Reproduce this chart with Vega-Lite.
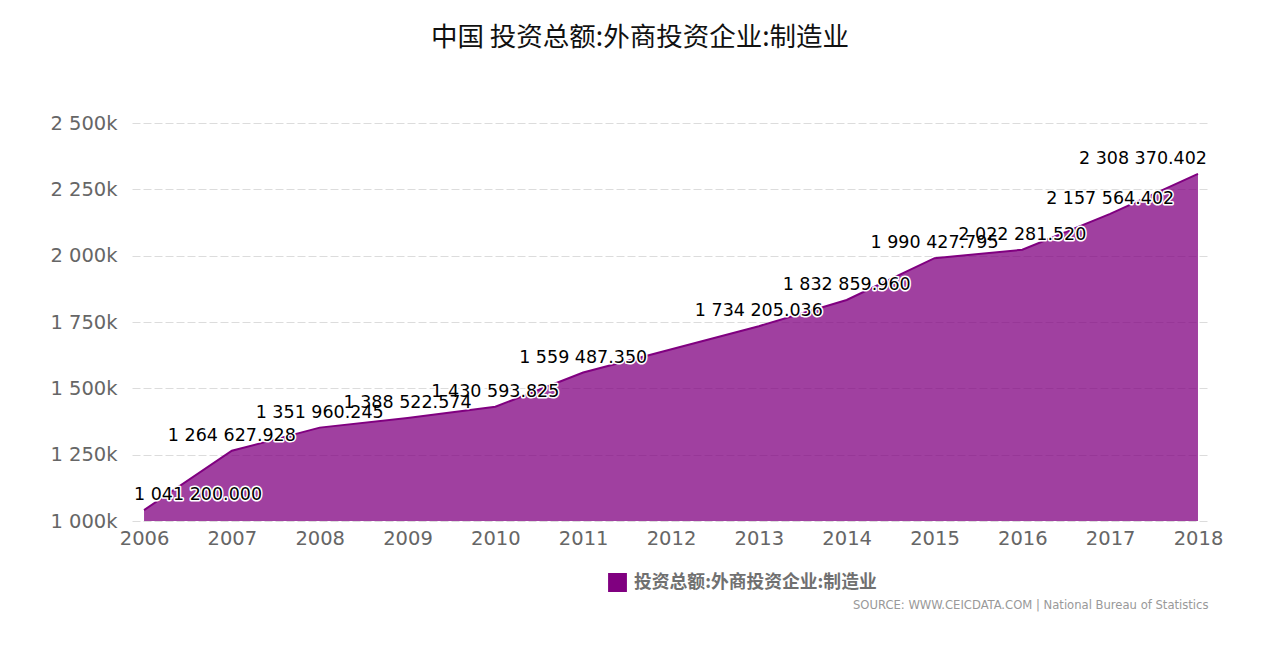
{
  "$schema": "https://vega.github.io/schema/vega-lite/v6.json",
  "width": 1076,
  "height": 398,
  "autosize": {"type": "none"},
  "padding": {"left": 132, "top": 123, "right": 69, "bottom": 145},
  "background": "white",
  "config": {
    "locale": {"number": {"decimal": ".", "thousands": " ", "grouping": [3], "currency": ["", ""]}},
    "view": {"stroke": null},
    "font": "DejaVu Sans"
  },
  "title": {
    "text": "中国 投资总额:外商投资企业:制造业",
    "font": "Noto Sans CJK SC",
    "fontSize": 26.5,
    "fontWeight": "normal",
    "color": "#111",
    "anchor": "middle",
    "frame": "group",
    "offset": 62,
    "dx": -30
  },
  "data": {
    "values": [
      {"year": 2006, "value": 1041200.000},
      {"year": 2007, "value": 1264627.928},
      {"year": 2008, "value": 1351960.245},
      {"year": 2009, "value": 1388522.574},
      {"year": 2010, "value": 1430593.825},
      {"year": 2011, "value": 1559487.350},
      {"year": 2013, "value": 1734205.036},
      {"year": 2014, "value": 1832859.960},
      {"year": 2015, "value": 1990427.795},
      {"year": 2016, "value": 2022281.520},
      {"year": 2017, "value": 2157564.402},
      {"year": 2018, "value": 2308370.402}
    ]
  },
  "encoding": {
    "x": {
      "field": "year",
      "type": "quantitative",
      "scale": {"domain": [2005.863, 2018.114], "nice": false, "zero": false},
      "axis": {
        "values": [2006, 2007, 2008, 2009, 2010, 2011, 2012, 2013, 2014, 2015, 2016, 2017, 2018],
        "format": "d",
        "grid": false,
        "domain": false,
        "ticks": false,
        "labelFont": "DejaVu Sans",
        "labelFontSize": 19.5,
        "labelColor": "#666",
        "labelPadding": 8,
        "title": "SOURCE: WWW.CEICDATA.COM | National Bureau of Statistics",
        "titleAnchor": "end",
        "titleAlign": "right",
        "titleFont": "DejaVu Sans Condensed, Liberation Sans",
        "titleFontSize": 12.9,
        "titleFontWeight": "normal",
        "titleColor": "#999",
        "titleY": 83,
        "titleBaseline": "middle"
      }
    },
    "y": {
      "field": "value",
      "type": "quantitative",
      "scale": {"domain": [1000000, 2500000], "zero": false, "nice": false},
      "axis": {
        "values": [1000000, 1250000, 1500000, 1750000, 2000000, 2250000, 2500000],
        "labelExpr": "format(datum.value/1000, ',') + 'k'",
        "grid": true,
        "gridDash": [8, 3],
        "gridColor": "#dcdcdc",
        "domain": false,
        "ticks": false,
        "labelPadding": 15,
        "labelFont": "DejaVu Sans",
        "labelFontSize": 19.5,
        "labelColor": "#666",
        "title": null
      }
    }
  },
  "layer": [
    {
      "mark": {"type": "area", "fillOpacity": 0.75, "line": {"strokeWidth": 2}},
      "encoding": {
        "y2": {"datum": 1000000},
        "color": {
          "datum": "投资总额:外商投资企业:制造业",
          "type": "nominal",
          "scale": {"range": ["#800080"]},
          "legend": {
            "title": null,
            "orient": "none",
            "legendX": 476,
            "legendY": 450,
            "symbolType": "square",
            "symbolSize": 300,
            "symbolOpacity": 1,
            "labelFont": "Noto Sans CJK SC",
            "labelFontSize": 17.8,
            "labelFontWeight": "bold",
            "labelColor": "#707070",
            "labelOffset": 7,
            "labelLimit": 0,
            "padding": 0
          }
        }
      }
    },
    {
      "transform": [{"filter": "datum.year > 2006 && datum.year < 2018"}],
      "layer": [
        {"mark": {"type": "text", "align": "center", "baseline": "middle", "dy": -15, "fontSize": 17.5, "fill": "white", "stroke": "white", "strokeWidth": 3, "strokeJoin": "round"},
         "encoding": {"text": {"field": "value", "type": "quantitative", "format": ",.3f"}}},
        {"mark": {"type": "text", "align": "center", "baseline": "middle", "dy": -15, "fontSize": 17.5, "fill": "black"},
         "encoding": {"text": {"field": "value", "type": "quantitative", "format": ",.3f"}}}
      ]
    },
    {
      "transform": [{"filter": "datum.year == 2006"}],
      "layer": [
        {"mark": {"type": "text", "align": "left", "baseline": "middle", "dx": -10, "dy": -15, "fontSize": 17.5, "fill": "white", "stroke": "white", "strokeWidth": 3, "strokeJoin": "round"},
         "encoding": {"text": {"field": "value", "type": "quantitative", "format": ",.3f"}}},
        {"mark": {"type": "text", "align": "left", "baseline": "middle", "dx": -10, "dy": -15, "fontSize": 17.5, "fill": "black"},
         "encoding": {"text": {"field": "value", "type": "quantitative", "format": ",.3f"}}}
      ]
    },
    {
      "transform": [{"filter": "datum.year == 2018"}],
      "layer": [
        {"mark": {"type": "text", "align": "right", "baseline": "middle", "dx": 9, "dy": -15, "fontSize": 17.5, "fill": "white", "stroke": "white", "strokeWidth": 3, "strokeJoin": "round"},
         "encoding": {"text": {"field": "value", "type": "quantitative", "format": ",.3f"}}},
        {"mark": {"type": "text", "align": "right", "baseline": "middle", "dx": 9, "dy": -15, "fontSize": 17.5, "fill": "black"},
         "encoding": {"text": {"field": "value", "type": "quantitative", "format": ",.3f"}}}
      ]
    }
  ]
}
